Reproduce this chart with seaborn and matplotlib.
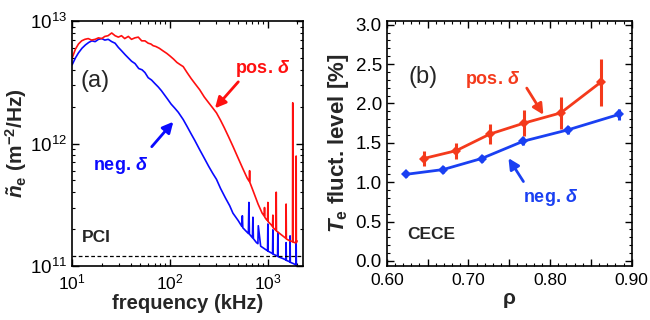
import numpy as np
import pandas as pd
import matplotlib
matplotlib.use("Agg")
import matplotlib.pyplot as plt
import matplotlib.ticker as mticker
import seaborn as sns

# --- data ---
# (a) PCI density fluctuation spectra, freq in kHz, values in 1e12 m^-2/Hz
pos_freq = [10, 10.8, 11.6, 12.5, 13.5, 14.6, 15.8, 17.2, 18.6, 20.1, 21.6, 23.3, 25.4, 27.5,
            29.7, 32, 34.5, 37.6, 40.5, 43.9, 47.5, 51.5, 55.6, 60, 64, 67.4, 72, 78, 85.5, 93,
            100, 109, 118, 128, 137, 150, 165, 180, 202, 225, 250, 275, 300, 330, 360, 400,
            442, 500, 560, 620, 650, 655, 660, 720, 800, 880, 925, 931, 937, 970, 1000, 1007,
            1014, 1100, 1125, 1133, 1141, 1220, 1227, 1234, 1430, 1540, 1549, 1558, 1700, 1800,
            1811, 1822, 1900, 1955, 1963, 1971, 2000]
pos_val = [5.0, 5.9, 6.5, 6.9, 7.1, 7.2, 7.0, 7.1, 7.3, 7.2, 7.5, 7.6, 8.0, 7.6,
           7.4, 7.6, 7.2, 7.5, 7.1, 7.3, 7.4, 6.9, 6.9, 6.6, 6.5, 6.3, 6.2, 6.0, 5.7, 5.45,
           5.2, 4.9, 4.6, 4.4, 4.25, 3.8, 3.4, 3.1, 2.75, 2.4, 2.15, 1.95, 1.78, 1.55, 1.35, 1.13,
           0.95, 0.76, 0.62, 0.52, 0.49, 0.6, 0.48, 0.4, 0.32, 0.27, 0.255, 0.3, 0.25, 0.24, 0.235, 0.33,
           0.23, 0.215, 0.21, 0.26, 0.205, 0.195, 0.4, 0.193, 0.176, 0.168, 0.32, 0.166, 0.16, 0.158,
           2.15, 0.157, 0.155, 0.155, 0.79, 0.155, 0.16]

neg_freq = [10, 10.8, 11.6, 12.6, 13.7, 14.8, 15.9, 17.2, 18.6, 20.1, 21.6, 23.4, 25.4, 27.5,
            29.7, 32.2, 35, 37.6, 40.6, 44, 48, 52, 55.6, 60, 65, 70, 76, 82, 88, 95, 103, 112,
            122, 137, 150, 165, 180, 202, 225, 250, 275, 300, 330, 370, 410, 442, 500, 546, 552,
            558, 600, 636, 644, 652, 700, 708, 716, 770, 796, 804, 850, 970, 1000, 1007, 1014,
            1050, 1125, 1133, 1141, 1266, 1274, 1282, 1432, 1540, 1549, 1558, 1690, 1700, 1710,
            1811, 1955, 1963, 1971, 2000]
neg_val = [4.4, 5.0, 5.5, 6.0, 6.4, 6.7, 6.9, 6.8, 7.1, 7.2, 7.0, 7.1, 6.8, 6.6,
           6.1, 5.7, 5.3, 5.0, 4.7, 4.5, 4.1, 4.0, 3.8, 3.45, 3.3, 3.1, 2.9, 2.7, 2.5, 2.3, 2.1, 1.95,
           1.8, 1.57, 1.38, 1.2, 1.06, 0.89, 0.76, 0.65, 0.57, 0.51, 0.43, 0.36, 0.31, 0.27, 0.235, 0.21, 0.257,
           0.205, 0.193, 0.184, 0.33, 0.182, 0.17, 0.25, 0.167, 0.155, 0.152, 0.213, 0.145, 0.135, 0.133, 0.22, 0.132,
           0.13, 0.126, 0.197, 0.125, 0.12, 0.188, 0.119, 0.115, 0.112, 0.155, 0.111, 0.108, 0.176, 0.107,
           0.105, 0.102, 0.155, 0.101, 0.1]

noise_floor = 1.21e11

# (b) CECE Te fluctuation level [%] vs rho
pos_rho = [0.645, 0.685, 0.726, 0.768, 0.813, 0.862]
pos_te = [1.30, 1.40, 1.61, 1.75, 1.88, 2.27]
pos_err = [0.09, 0.10, 0.13, 0.165, 0.20, 0.30]

neg_rho = [0.624, 0.669, 0.716, 0.767, 0.822, 0.884]
neg_te = [1.10, 1.16, 1.30, 1.52, 1.665, 1.86]
neg_err = [0.04, 0.04, 0.05, 0.05, 0.05, 0.07]

# --- style ---
sns.set_theme(style="ticks")
plt.rcParams['font.family'] = ['Liberation Sans', 'DejaVu Sans']
plt.rcParams['mathtext.fontset'] = 'custom'
plt.rcParams['mathtext.it'] = 'Liberation Sans:italic:bold'
plt.rcParams['mathtext.rm'] = 'Liberation Sans:bold'
plt.rcParams['mathtext.bf'] = 'Liberation Sans:bold'

RED_A, BLUE_A = '#ff1010', '#0a0aff'
RED_B, BLUE_B = '#f43a1c', '#1a40f2'

fig = plt.figure(figsize=(6.5, 3.2), dpi=100)
ax1 = fig.add_axes([0.111, 0.169, 0.355, 0.765])
ax2 = fig.add_axes([0.595, 0.170, 0.377, 0.765])

# --- panel (a) ---
df_pos = pd.DataFrame({'f': pos_freq, 'S': np.array(pos_val) * 1e12})
df_neg = pd.DataFrame({'f': neg_freq, 'S': np.array(neg_val) * 1e12})
sns.lineplot(data=df_neg, x='f', y='S', ax=ax1, color=BLUE_A, lw=1.2, sort=False, estimator=None)
sns.lineplot(data=df_pos, x='f', y='S', ax=ax1, color=RED_A, lw=1.2, sort=False, estimator=None)
ax1.axhline(noise_floor, color='black', ls=(0, (3, 2)), lw=0.9)
ax1.set_xscale('log')
ax1.set_yscale('log')
ax1.set_xlim(10, 2300)
ax1.set_ylim(1e11, 1e13)
ax1.set_xlabel('frequency (kHz)', fontsize=14.5, fontweight='bold', labelpad=1)
ax1.set_ylabel(r'$\tilde{n}_{\mathrm{e}}$ (m$^{\mathrm{-2}}$/Hz)', fontsize=15, fontweight='bold', labelpad=1)

ax1.text(0.035, 0.757, '(a)', transform=ax1.transAxes, fontsize=17, ha='left', va='center')
ax1.text(0.042, 0.118, 'PCI', transform=ax1.transAxes, fontsize=12.5, fontweight='bold', va='center')
ax1.text(0.827, 0.808, r'pos. $\delta$', transform=ax1.transAxes, fontsize=13, fontweight='bold',
         color=RED_A, ha='center', va='center')
ax1.text(0.208, 0.412, r'neg. $\delta$', transform=ax1.transAxes, fontsize=13, fontweight='bold',
         color=BLUE_A, ha='center', va='center')
ax1.annotate('', xy=(0.619, 0.644), xytext=(0.720, 0.752), xycoords='axes fraction',
             arrowprops=dict(arrowstyle='-|>', color=RED_A, lw=2, mutation_scale=16, shrinkA=0, shrinkB=0))
ax1.annotate('', xy=(0.4385, 0.589), xytext=(0.345, 0.487), xycoords='axes fraction',
             arrowprops=dict(arrowstyle='-|>', color=BLUE_A, lw=2, mutation_scale=16, shrinkA=0, shrinkB=0))

# --- panel (b) ---
df_b = pd.DataFrame({
    'rho': pos_rho + neg_rho,
    'te': pos_te + neg_te,
    'case': ['pos'] * len(pos_rho) + ['neg'] * len(neg_rho),
})
ax2.errorbar(pos_rho, pos_te, yerr=pos_err, fmt='none', ecolor=RED_B, elinewidth=2.2, capsize=0)
ax2.errorbar(neg_rho, neg_te, yerr=neg_err, fmt='none', ecolor=BLUE_B, elinewidth=2.2, capsize=0)
sns.lineplot(data=df_b, x='rho', y='te', hue='case', palette={'pos': RED_B, 'neg': BLUE_B},
             marker='D', markersize=5, markeredgewidth=0, lw=2, ax=ax2, legend=False, estimator=None)
ax2.set_xlim(0.60, 0.90)
ax2.set_ylim(-0.06, 3.05)
ax2.xaxis.set_major_locator(mticker.MultipleLocator(0.05))
ax2.xaxis.set_minor_locator(mticker.MultipleLocator(0.01))
ax2.xaxis.set_major_formatter(mticker.FuncFormatter(
    lambda v, p: f'{v:.2f}' if round(v * 100) % 10 == 0 else ''))
ax2.yaxis.set_major_locator(mticker.MultipleLocator(0.5))
ax2.yaxis.set_minor_locator(mticker.MultipleLocator(0.1))
ax2.yaxis.set_major_formatter(mticker.FormatStrFormatter('%.1f'))
ax2.set_xlabel('ρ', fontsize=15, fontweight='bold', labelpad=1)
ax2.set_ylabel(r'$T_{\mathrm{e}}$ fluct. level [%]', fontsize=16, fontweight='bold', labelpad=3)

ax2.text(0.6444, 2.33, '(b)', fontsize=17, ha='center', va='center')
ax2.text(0.6245, 0.33, 'CECE', fontsize=12.5, fontweight='bold', va='center')
ax2.text(0.730, 2.30, r'pos. $\delta$', fontsize=13, fontweight='bold', color=RED_B, ha='center', va='center')
ax2.text(0.800, 0.80, r'neg. $\delta$', fontsize=13, fontweight='bold', color=BLUE_B, ha='center', va='center')
ax2.annotate('', xy=(0.7918, 1.856), xytext=(0.7714, 2.195),
             arrowprops=dict(arrowstyle='-|>', color=RED_B, lw=2, mutation_scale=16, shrinkA=0, shrinkB=0))
ax2.annotate('', xy=(0.749, 1.305), xytext=(0.7673, 1.008),
             arrowprops=dict(arrowstyle='-|>', color=BLUE_B, lw=2, mutation_scale=16, shrinkA=0, shrinkB=0))

for ax in (ax1, ax2):
    ax.tick_params(which='both', direction='in', top=True, right=True, colors='black')
    ax.tick_params(axis='x', labelsize=12.5, pad=5)
    ax.tick_params(axis='y', labelsize=13.5)
    ax.tick_params(which='major', length=5, width=1)
    ax.tick_params(which='minor', length=2.5, width=0.8)
    for s in ax.spines.values():
        s.set_color('black')
        s.set_linewidth(1.2)

fig.savefig('out.png', dpi=100)
